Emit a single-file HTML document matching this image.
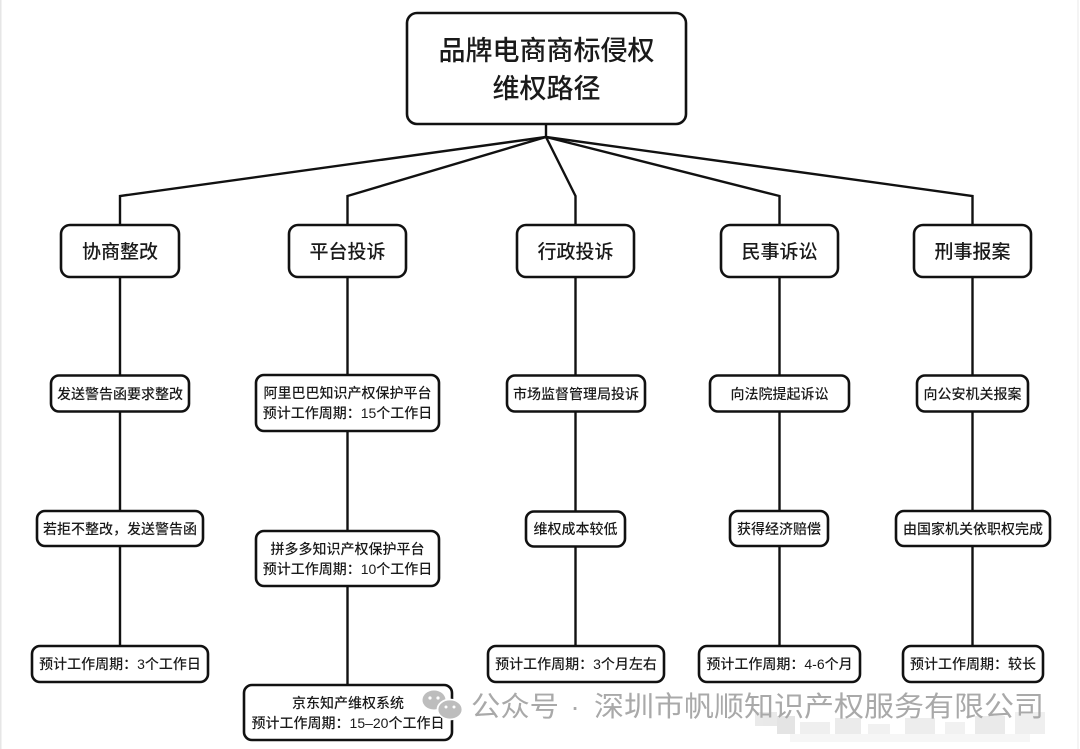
<!DOCTYPE html>
<html>
<head>
<meta charset="utf-8">
<style>
  html,body{margin:0;padding:0;background:#fff;}
  body{width:1080px;height:749px;overflow:hidden;}
  svg{display:block;}
  text{font-family:"Liberation Sans","Noto Sans CJK SC",sans-serif;fill:#1a1a1a;}
  .t1{font-size:27px;font-weight:500;}
  .t2{font-size:19px;font-weight:500;}
  .t3{font-size:14px;font-weight:500;}
  .wm{font-size:28px;fill:#a9a9a9;font-weight:400;}
</style>
</head>
<body>
<svg width="1080" height="749" viewBox="0 0 1080 749" xmlns="http://www.w3.org/2000/svg">
  <rect x="0" y="0" width="1080" height="749" fill="#fff"/>
  <line x1="0.75" y1="0" x2="0.75" y2="749" stroke="#e6e6e6" stroke-width="1.5"/>
  <line x1="1078" y1="0" x2="1078" y2="749" stroke="#f0f0f0" stroke-width="1.5"/>

  <!-- connectors -->
  <g stroke="#111" stroke-width="2.4" fill="none" stroke-linejoin="miter">
    <line x1="546" y1="124" x2="546" y2="137"/>
    <polyline points="546,137 120,196 120,225"/>
    <polyline points="546,137 347.5,196 347.5,225"/>
    <polyline points="546,137 575.5,196 575.5,225"/>
    <polyline points="546,137 779.5,196 779.5,225"/>
    <polyline points="546,137 972.5,196 972.5,225"/>
    <!-- column verticals -->
    <line x1="120" y1="277" x2="120" y2="646"/>
    <line x1="347.5" y1="277" x2="347.5" y2="685"/>
    <line x1="575.5" y1="277" x2="575.5" y2="646"/>
    <line x1="779.5" y1="277" x2="779.5" y2="646"/>
    <line x1="972.5" y1="277" x2="972.5" y2="646"/>
  </g>

  <!-- boxes -->
  <g stroke="#111" stroke-width="2.6" fill="#fff">
    <rect x="407" y="13" width="279" height="111" rx="10"/>
    <rect x="61" y="225" width="118" height="52" rx="9"/>
    <rect x="289" y="225" width="117" height="52" rx="9"/>
    <rect x="517" y="225" width="117" height="52" rx="9"/>
    <rect x="721" y="225" width="117" height="52" rx="9"/>
    <rect x="914" y="225" width="117" height="52" rx="9"/>

    <rect x="51" y="375.5" width="138" height="36" rx="8"/>
    <rect x="37" y="511" width="166" height="35" rx="8"/>
    <rect x="32" y="646" width="176" height="36" rx="8"/>

    <rect x="256" y="375" width="183" height="56" rx="8"/>
    <rect x="256" y="531" width="183" height="55" rx="8"/>
    <rect x="244" y="685" width="208" height="55" rx="8"/>

    <rect x="507" y="375.5" width="138" height="36" rx="8"/>
    <rect x="526" y="511.5" width="99" height="35" rx="8"/>
    <rect x="488" y="646" width="176" height="36" rx="8"/>

    <rect x="710" y="375.5" width="139" height="36" rx="8"/>
    <rect x="730" y="511" width="98" height="35" rx="8"/>
    <rect x="699" y="646" width="161" height="36" rx="8"/>

    <rect x="917" y="375.5" width="111" height="36" rx="8"/>
    <rect x="896" y="511" width="154" height="35" rx="8"/>
    <rect x="903" y="646" width="140" height="36" rx="8"/>
  </g>

  <!-- text -->
  <g text-anchor="middle">
    <text class="t1" x="546.5" y="60">品牌电商商标侵权</text>
    <text class="t1" x="546.5" y="98">维权路径</text>

    <text class="t2" x="120" y="258">协商整改</text>
    <text class="t2" x="347.5" y="258">平台投诉</text>
    <text class="t2" x="575.5" y="258">行政投诉</text>
    <text class="t2" x="779.5" y="258">民事诉讼</text>
    <text class="t2" x="972.5" y="258">刑事报案</text>

    <text class="t3" x="120" y="399">发送警告函要求整改</text>
    <text class="t3" x="120" y="534">若拒不整改，发送警告函</text>
    <text class="t3" x="120" y="669">预计工作周期：3个工作日</text>

    <text class="t3" x="347.5" y="398">阿里巴巴知识产权保护平台</text>
    <text class="t3" x="347.5" y="418">预计工作周期：15个工作日</text>
    <text class="t3" x="347.5" y="554">拼多多知识产权保护平台</text>
    <text class="t3" x="347.5" y="574">预计工作周期：10个工作日</text>
    <text class="t3" x="348" y="708">京东知产维权系统</text>
    <text class="t3" x="348" y="728">预计工作周期：15–20个工作日</text>

    <text class="t3" x="576" y="399">市场监督管理局投诉</text>
    <text class="t3" x="575.5" y="534">维权成本较低</text>
    <text class="t3" x="576" y="669">预计工作周期：3个月左右</text>

    <text class="t3" x="779.5" y="399">向法院提起诉讼</text>
    <text class="t3" x="779" y="534">获得经济赔偿</text>
    <text class="t3" x="779.5" y="669">预计工作周期：4-6个月</text>

    <text class="t3" x="972.5" y="399">向公安机关报案</text>
    <text class="t3" x="973" y="534">由国家机关依职权完成</text>
    <text class="t3" x="973" y="669">预计工作周期：较长</text>
  </g>

  <!-- watermark blur blocks -->
  <g opacity="0.55">
    <rect x="755" y="712" width="22" height="14" fill="#d8d8d8"/>
    <rect x="777" y="716" width="18" height="18" fill="#cfcfcf"/>
    <rect x="800" y="722" width="30" height="12" fill="#e2e2e2"/>
    <rect x="835" y="718" width="26" height="16" fill="#dcdcdc"/>
    <rect x="868" y="724" width="22" height="10" fill="#e6e6e6"/>
    <rect x="905" y="718" width="30" height="16" fill="#e0e0e0"/>
    <rect x="945" y="722" width="20" height="12" fill="#e6e6e6"/>
    <rect x="975" y="716" width="30" height="18" fill="#dadada"/>
    <rect x="1015" y="712" width="30" height="22" fill="#e2e2e2"/>
    <rect x="790" y="734" width="240" height="8" fill="#efefef"/>
  </g>

  <!-- watermark -->
  <g>
    <ellipse cx="434" cy="700" rx="11.5" ry="9.5" fill="#bdbdbd"/>
    <circle cx="430" cy="698" r="1.6" fill="#fff"/>
    <circle cx="438" cy="698" r="1.6" fill="#fff"/>
    <ellipse cx="450" cy="709.5" rx="12.5" ry="10" fill="#bdbdbd" stroke="#fff" stroke-width="1.8"/>
    <circle cx="446" cy="707" r="1.5" fill="#fff"/>
    <circle cx="454" cy="707" r="1.5" fill="#fff"/>
    <text class="wm" x="471" y="716" textLength="88" lengthAdjust="spacingAndGlyphs">公众号</text>
    <text class="wm" x="575" y="716" text-anchor="middle">·</text>
    <text class="wm" x="594" y="716" textLength="450" lengthAdjust="spacingAndGlyphs">深圳市帆顺知识产权服务有限公司</text>
  </g>
</svg>
</body>
</html>
